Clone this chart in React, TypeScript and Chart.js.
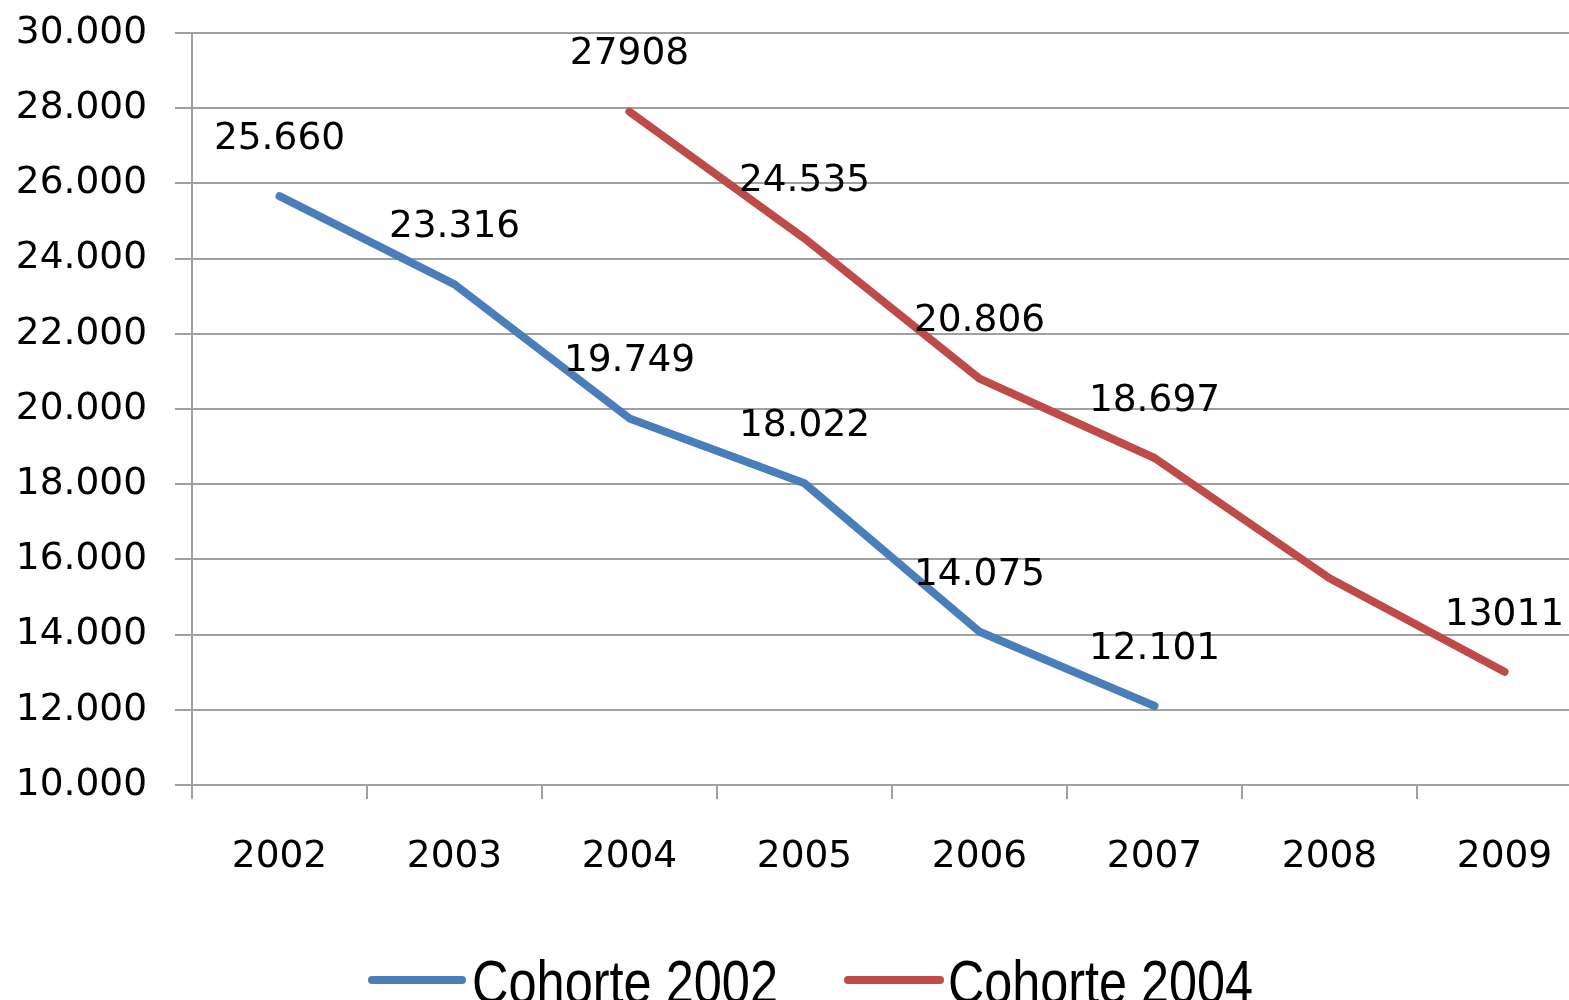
import React, { useEffect, useRef } from "react";
import { Chart, registerables } from "chart.js";

Chart.register(...registerables);

const years = ["2002", "2003", "2004", "2005", "2006", "2007", "2008", "2009"];
const cohorte2002 = [25660, 23316, 19749, 18022, 14075, 12101, null, null];
const cohorte2004 = [null, null, 27908, 24535, 20806, 18697, 15500, 13011];
const labels2002 = ["25.660", "23.316", "19.749", "18.022", "14.075", "12.101", null, null];
const labels2004 = [null, null, "27908", "24.535", "20.806", "18.697", null, "13011"];
const seriesNames = ["Cohorte 2002", "Cohorte 2004"];
const seriesColors = ["#4A7EBB", "#BE4B48"];
const yMin = 10000;
const yMax = 30000;
const yStep = 2000;

const FONT = "'DejaVu Sans', sans-serif";
const FS = 37.5;
const LEGEND_FONT = "'Liberation Sans', Arial, sans-serif";
const GRID = "#a0a0a0";

const fmt = (v: number) => String(v).replace(/\B(?=(\d{3})+(?!\d))/g, ".");

const dataLabelPlugin = {
  id: "dataLabels",
  afterDatasetsDraw(chart: any) {
    const ctx = chart.ctx;
    const all = [labels2002, labels2004];
    ctx.save();
    ctx.font = `${FS}px ${FONT}`;
    ctx.fillStyle = "#000";
    ctx.textAlign = "center";
    ctx.textBaseline = "middle";
    chart.data.datasets.forEach((ds: any, di: number) => {
      const meta = chart.getDatasetMeta(di);
      meta.data.forEach((pt: any, i: number) => {
        const t = all[di][i];
        if (t == null || ds.data[i] == null) return;
        ctx.fillText(t, pt.x, pt.y - 57);
      });
    });
    ctx.restore();
  },
};

const legendPlugin = {
  id: "customLegend",
  afterDraw(chart: any) {
    const ctx = chart.ctx;
    const items = [
      { x0: 372, x1: 462, tx: 472, tw: 306 },
      { x0: 848, x1: 940, tx: 948, tw: 305 },
    ];
    ctx.save();
    items.forEach((it, i) => {
      ctx.strokeStyle = seriesColors[i];
      ctx.lineWidth = 8;
      ctx.lineCap = "round";
      ctx.beginPath();
      ctx.moveTo(it.x0, 980);
      ctx.lineTo(it.x1, 980);
      ctx.stroke();
      ctx.font = `61px ${LEGEND_FONT}`;
      ctx.fillStyle = "#000";
      ctx.textAlign = "left";
      ctx.textBaseline = "alphabetic";
      const w = ctx.measureText(seriesNames[i]).width;
      const sx = it.tw / w;
      ctx.save();
      ctx.translate(it.tx, 1003);
      ctx.scale(sx, 1);
      ctx.fillText(seriesNames[i], 0, 0);
      ctx.restore();
    });
    ctx.restore();
  },
};

export default function App() {
  const ref = useRef<HTMLCanvasElement | null>(null);
  useEffect(() => {
    if (!ref.current) return;
    const chart = new Chart(ref.current, {
      type: "line",
      data: {
        labels: years,
        datasets: [
          {
            label: seriesNames[0],
            data: cohorte2002,
            borderColor: seriesColors[0],
            backgroundColor: seriesColors[0],
            borderWidth: 8,
            pointRadius: 0,
            tension: 0,
            borderCapStyle: "round",
            borderJoinStyle: "round",
            spanGaps: false,
          },
          {
            label: seriesNames[1],
            data: cohorte2004,
            borderColor: seriesColors[1],
            backgroundColor: seriesColors[1],
            borderWidth: 8,
            pointRadius: 0,
            tension: 0,
            borderCapStyle: "round",
            borderJoinStyle: "round",
            spanGaps: false,
          },
        ],
      },
      options: {
        responsive: false,
        animation: false,
        layout: { padding: { top: 33, right: 28, left: 0, bottom: 0 } },
        plugins: {
          legend: { display: false },
          tooltip: { enabled: false },
          title: { display: false },
        },
        scales: {
          x: {
            type: "category",
            offset: true,
            grid: {
              display: true,
              drawOnChartArea: false,
              drawTicks: true,
              tickLength: 14,
              offset: true,
              color: GRID,
              lineWidth: 2,
            },
            border: { display: true, color: GRID, width: 2 },
            ticks: {
              color: "#000",
              font: { family: FONT, size: FS },
              padding: 36,
              maxRotation: 0,
              autoSkip: false,
            },
            afterFit: (s: any) => {
              s.height = 215;
              s.paddingLeft = 0;
              s.paddingRight = 0;
            },
          },
          y: {
            min: yMin,
            max: yMax,
            grid: {
              color: GRID,
              lineWidth: 2,
              tickLength: 17,
            },
            border: { display: true, color: GRID, width: 2 },
            ticks: {
              stepSize: yStep,
              color: "#000",
              font: { family: FONT, size: FS },
              padding: 28,
              callback: (v: any) => fmt(Number(v)),
            },
            afterFit: (s: any) => {
              s.width = 192;
              s.paddingTop = 0;
              s.paddingBottom = 0;
            },
          },
        },
      },
      plugins: [dataLabelPlugin, legendPlugin],
    });
    return () => chart.destroy();
  }, []);

  return (
    <div
      style={{
        position: "fixed",
        left: 0,
        top: 0,
        width: 1569,
        height: 1000,
        overflow: "hidden",
        background: "#fff",
      }}
    >
      <canvas ref={ref} width={1620} height={1000} style={{ width: 1620, height: 1000, display: "block" }} />
    </div>
  );
}
